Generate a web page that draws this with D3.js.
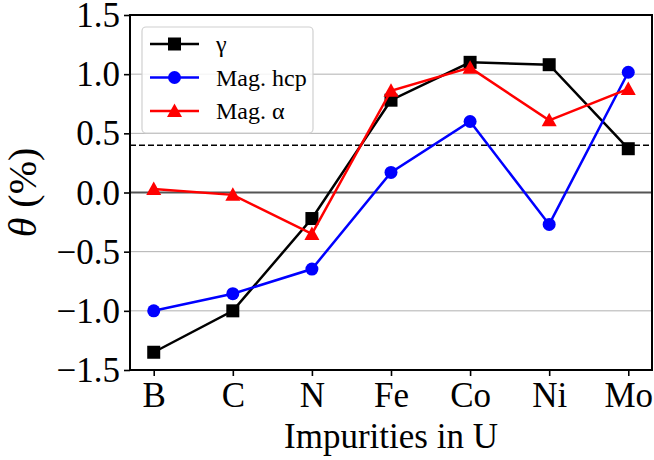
<!DOCTYPE html>
<html><head><meta charset="utf-8">
<script src="https://cdn.jsdelivr.net/npm/d3@7"></script>
<style>body{margin:0;background:#fff}svg{display:block}text{font-family:"Liberation Serif","DejaVu Serif",serif}</style>
</head><body>
<svg id="c" width="654" height="460"></svg>
<script>
const categories = ["B","C","N","Fe","Co","Ni","Mo"];
const gammaVals = [-1.35, -1.00, -0.22, 0.78, 1.10, 1.08, 0.37];
const hcpVals   = [-1.00, -0.855, -0.647, 0.17, 0.60, -0.27, 1.016];
const alphaVals = [0.03, -0.02, -0.35, 0.86, 1.055, 0.61, 0.875];
const yTicks = [-1.5, -1.0, -0.5, 0.0, 0.5, 1.0, 1.5];
const refLine = 0.40;
const seriesNames = ["γ", "Mag. hcp", "Mag. α"];

const svg = d3.select("#c");
const L = 130, R = 652, T = 15, B = 370;
const x = d3.scaleLinear().domain([-0.3, categories.length - 1 + 0.3]).range([L, R]);
const y = d3.scaleLinear().domain([-1.5, 1.5]).range([B, T]);

svg.append("g").selectAll("line").data(yTicks.filter(v => v !== 0 && Math.abs(v) !== 1.5)).join("line")
  .attr("x1", L).attr("x2", R).attr("y1", d => y(d)).attr("y2", d => y(d))
  .attr("stroke", "#b0b0b0").attr("stroke-width", 1);
svg.append("line").attr("x1", L).attr("x2", R).attr("y1", y(0)).attr("y2", y(0))
  .attr("stroke", "#555").attr("stroke-width", 2);
svg.append("line").attr("x1", L).attr("x2", R).attr("y1", y(refLine)).attr("y2", y(refLine))
  .attr("stroke", "#000").attr("stroke-width", 1.5).attr("stroke-dasharray", "6,3");

const series = [
  {name: seriesNames[0], vals: gammaVals, color: "#000", shape: "square"},
  {name: seriesNames[1], vals: hcpVals, color: "#0000ff", shape: "circle"},
  {name: seriesNames[2], vals: alphaVals, color: "#ff0000", shape: "triangle"}
];
function marker(g, shape, cx, cy, color) {
  if (shape === "square") g.append("rect").attr("x", cx - 6.5).attr("y", cy - 6.5).attr("width", 13).attr("height", 13).attr("fill", color);
  else if (shape === "circle") g.append("circle").attr("cx", cx).attr("cy", cy).attr("r", 6.5).attr("fill", color);
  else g.append("path").attr("d", `M${cx},${cy-7.5}L${cx+7.5},${cy+6}L${cx-7.5},${cy+6}Z`).attr("fill", color);
}
const line = d3.line().x((d, i) => x(i)).y(d => y(d));
series.forEach(s => {
  const g = svg.append("g");
  g.append("path").attr("d", line(s.vals)).attr("fill", "none").attr("stroke", s.color).attr("stroke-width", 2.5);
  s.vals.forEach((v, i) => marker(g, s.shape, x(i), y(v), s.color));
});

const fmt = d => (d < 0 ? "\u2212" : "") + Math.abs(d).toFixed(1);
const ya = svg.append("g").attr("transform", `translate(${L},0)`)
  .call(d3.axisLeft(y).tickValues(yTicks).tickFormat(fmt).tickSize(6).tickPadding(4));
const xa = svg.append("g").attr("transform", `translate(0,${B})`)
  .call(d3.axisBottom(x).tickValues(d3.range(categories.length)).tickFormat(i => categories[i]).tickSize(6));
[ya, xa].forEach(a => {
  a.attr("font-size", null).attr("font-family", null);
  a.select(".domain").remove();
  a.selectAll(".tick line").attr("stroke", "#000").attr("stroke-width", 1.6);
  a.selectAll(".tick text").attr("font-size", 35).attr("fill", "#000");
});
xa.selectAll(".tick text").attr("y", 37).attr("dy", 0);
ya.selectAll(".tick text").attr("dy", "0.33em");
svg.append("rect").attr("x", L).attr("y", T).attr("width", R - L).attr("height", B - T)
  .attr("fill", "none").attr("stroke", "#000").attr("stroke-width", 2);

svg.append("text").attr("x", (L + R) / 2).attr("y", 448).attr("text-anchor", "middle")
  .attr("font-size", 35).text("Impurities in U");
const yl = svg.append("text").attr("transform", `translate(36,${(T + B) / 2}) rotate(-90)`).attr("text-anchor", "middle").attr("font-size", 40);
yl.append("tspan").attr("font-style", "italic").text("θ");
yl.append("tspan").text(" (%)");

const lg = svg.append("g");
lg.append("rect").attr("x", 142).attr("y", 27).attr("width", 171).attr("height", 106).attr("rx", 4)
  .attr("fill", "#fff").attr("fill-opacity", 0.85).attr("stroke", "#d0d0d0").attr("stroke-width", 1.2);
series.forEach((s, i) => {
  const cy = 44 + i * 33.5;
  lg.append("line").attr("x1", 150).attr("x2", 199).attr("y1", cy).attr("y2", cy).attr("stroke", s.color).attr("stroke-width", 2.5);
  marker(lg, s.shape, 174.5, cy, s.color);
  lg.append("text").attr("x", 216).attr("y", cy).attr("dy", "0.35em").attr("font-size", 24).text(s.name);
});
</script>
</body></html>
